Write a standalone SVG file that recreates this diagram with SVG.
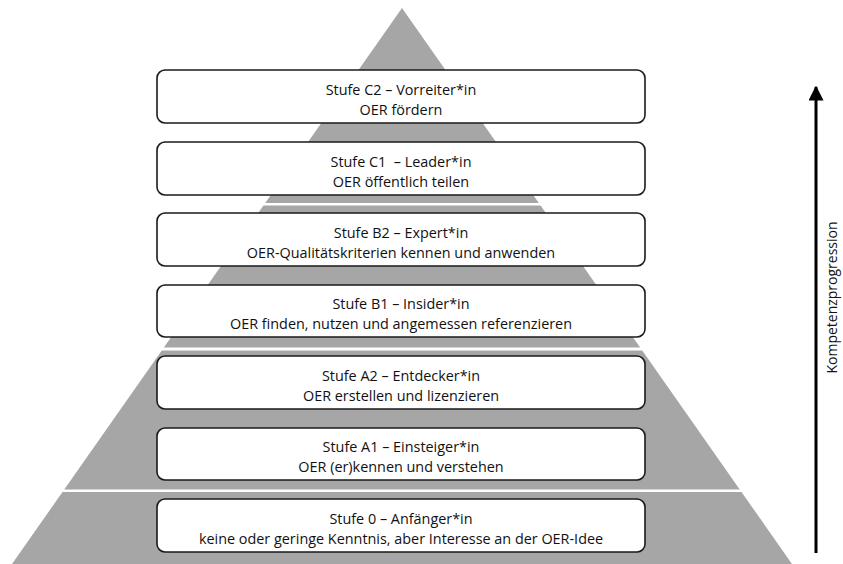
<svg xmlns="http://www.w3.org/2000/svg" width="843" height="564" viewBox="0 0 843 564">
  <style>
    .box { fill: #ffffff; stroke: #1a1a1a; stroke-width: 1.6; }
    .t { font-family: "Open Sans", "Liberation Sans", sans-serif; font-size: 14.4px; fill: #111111; text-anchor: middle; }
    .gap { fill: #ffffff; }
  </style>
  <defs>
    <marker id="ah" viewBox="0 0 10 10" refX="9" refY="5" markerWidth="5" markerHeight="5" markerUnits="strokeWidth" orient="auto">
      <path d="M0,0 L10,5 L0,10 z" fill="#000000"/>
    </marker>
  </defs>
  <rect width="843" height="564" fill="#ffffff"/>
  <g id="pyramid">
    <polygon points="402,8 12,564 792,564" fill="#a6a6a6"/>
    <rect class="gap" x="0" y="203" width="800" height="2.5"/>
    <rect class="gap" x="0" y="347.5" width="800" height="3"/>
    <rect class="gap" x="0" y="489.5" width="800" height="2.5"/>
  </g>
  <g id="connectors">
    <line x1="816" y1="553" x2="816" y2="87" stroke="#000000" stroke-width="3" marker-end="url(#ah)"/>
  </g>
  <g id="axis-label">
    <text class="t" transform="translate(837,297.5) rotate(-90)" style="font-size:14px">Kompetenzprogression</text>
  </g>
  <g id="stufe-c2">
    <rect class="box" x="157" y="70" width="488" height="53" rx="8"/>
    <text class="t" x="401" y="95">Stufe C2 – Vorreiter*in</text>
    <text class="t" x="401" y="115">OER fördern</text>
  </g>
  <g id="stufe-c1">
    <rect class="box" x="157" y="142" width="488" height="53" rx="8"/>
    <text class="t" x="401" y="167" xml:space="preserve">Stufe C1  – Leader*in</text>
    <text class="t" x="401" y="187">OER öffentlich teilen</text>
  </g>
  <g id="stufe-b2">
    <rect class="box" x="157" y="213" width="488" height="53" rx="8"/>
    <text class="t" x="401" y="238">Stufe B2 – Expert*in</text>
    <text class="t" x="401" y="258">OER-Qualitätskriterien kennen und anwenden</text>
  </g>
  <g id="stufe-b1">
    <rect class="box" x="157" y="285" width="488" height="52" rx="8"/>
    <text class="t" x="401" y="309">Stufe B1 – Insider*in</text>
    <text class="t" x="401" y="329">OER finden, nutzen und angemessen referenzieren</text>
  </g>
  <g id="stufe-a2">
    <rect class="box" x="157" y="356" width="488" height="53" rx="8"/>
    <text class="t" x="401" y="381">Stufe A2 – Entdecker*in</text>
    <text class="t" x="401" y="401">OER erstellen und lizenzieren</text>
  </g>
  <g id="stufe-a1">
    <rect class="box" x="157" y="428" width="488" height="52" rx="8"/>
    <text class="t" x="401" y="452">Stufe A1 – Einsteiger*in</text>
    <text class="t" x="401" y="472">OER (er)kennen und verstehen</text>
  </g>
  <g id="stufe-0">
    <rect class="box" x="157" y="499" width="488" height="53" rx="8"/>
    <text class="t" x="401" y="524">Stufe 0 – Anfänger*in</text>
    <text class="t" x="401" y="544">keine oder geringe Kenntnis, aber Interesse an der OER-Idee</text>
  </g>
</svg>
